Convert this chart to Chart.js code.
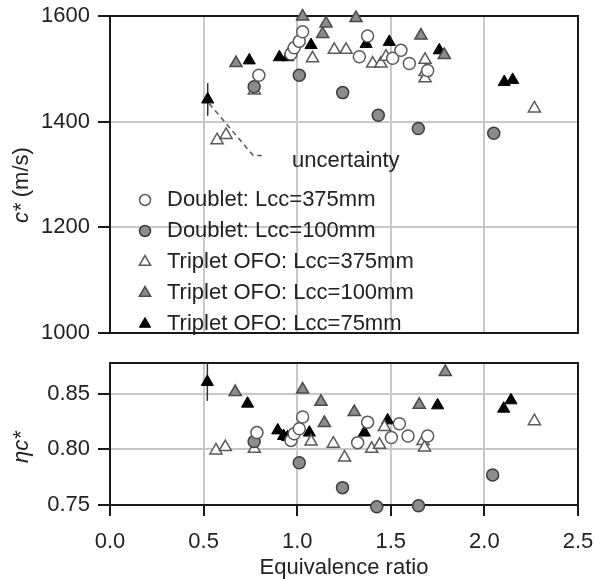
<!DOCTYPE html>
<html>
<head>
<meta charset="utf-8">
<script src="https://cdn.jsdelivr.net/npm/chart.js@4.4.1/dist/chart.umd.min.js"></script>
<style>
  body { margin: 0; background: #fff; }
  canvas { display: block; }
</style>
</head>
<body>
<canvas id="cstar" width="595" height="345"></canvas>
<canvas id="eta" width="595" height="234"></canvas>
<script>
// equivalence ratio (phi) and characteristic velocity c* [m/s]
const d375PhiC = [0.795, 0.967, 0.984, 1.011, 1.029, 1.332, 1.376, 1.51, 1.554, 1.599, 1.697];
const d375Cstar = [1488, 1528, 1540, 1552, 1570, 1523, 1562, 1520, 1535, 1510, 1497];
const d100PhiC = [0.77, 1.011, 1.243, 1.433, 1.647, 2.05];
const d100Cstar = [1466, 1488, 1455, 1412, 1387, 1378];
const t375PhiC = [0.572, 0.62, 0.771, 0.967, 1.082, 1.198, 1.261, 1.403, 1.447, 1.474, 1.683, 1.683, 1.683, 2.267];
const t375Cstar = [1365, 1375, 1459, 1536, 1520, 1536, 1536, 1510, 1510, 1523, 1517, 1494, 1482, 1425];
const t100PhiC = [0.673, 1.029, 1.136, 1.154, 1.314, 1.661, 1.786];
const t100Cstar = [1511, 1599, 1566, 1586, 1596, 1563, 1526];
const t75PhiC = [0.522, 0.744, 0.905, 0.949, 1.074, 1.368, 1.492, 1.759, 2.106, 2.151];
const t75Cstar = [1442, 1516, 1522, 1522, 1545, 1547, 1551, 1535, 1475, 1479];

// c* efficiency
const d375PhiEta = [0.785, 0.967, 0.984, 1.011, 1.029, 1.323, 1.376, 1.503, 1.546, 1.592, 1.697];
const d375Eta = [0.815, 0.808, 0.814, 0.8185, 0.829, 0.806, 0.8244, 0.8106, 0.823, 0.812, 0.812];
const d100PhiEta = [0.77, 1.011, 1.242, 1.425, 1.648, 2.044];
const d100Eta = [0.807, 0.788, 0.7656, 0.7485, 0.7494, 0.777];
const t375PhiEta = [0.566, 0.616, 0.771, 1.074, 1.193, 1.253, 1.398, 1.44, 1.466, 1.672, 1.68, 2.267];
const t375Eta = [0.799, 0.802, 0.8005, 0.807, 0.805, 0.7926, 0.8005, 0.804, 0.820, 0.8075, 0.8016, 0.8253];
const t100PhiEta = [0.669, 1.029, 1.127, 1.145, 1.305, 1.652, 1.791];
const t100Eta = [0.8514, 0.8536, 0.8426, 0.8237, 0.8334, 0.840, 0.8695];
const t75PhiEta = [0.52, 0.735, 0.896, 0.927, 0.949, 1.065, 1.359, 1.483, 1.75, 2.103, 2.142];
const t75Eta = [0.8605, 0.841, 0.817, 0.812, 0.811, 0.815, 0.815, 0.826, 0.8395, 0.8365, 0.844];

// uncertainty bar on the first Lcc=75mm point, and the leader line to its label
const cstarUncertainty = 31;
const etaUncertainty = 0.017;
const leaderPhi = [0.53, 0.765, 0.81];
const leaderCstar = [1434, 1336, 1336];

const labels = ["Doublet: Lcc=375mm", "Doublet: Lcc=100mm", "Triplet OFO: Lcc=375mm", "Triplet OFO: Lcc=100mm", "Triplet OFO: Lcc=75mm"];
const phiTicks = [0, 0.5, 1.0, 1.5, 2.0, 2.5];

const FONT = "'Liberation Sans', Arial, sans-serif";
Chart.defaults.font.family = FONT;
Chart.defaults.color = "#222";

const GRID = "#c8c8c8";
const INK = "#1a1a1a";

const styles = {
  openCircle: { pointStyle: "circle", pointRadius: 6, backgroundColor: "#fff", borderColor: "#5a5a5a", pointBorderWidth: 1.5 },
  grayCircle: { pointStyle: "circle", pointRadius: 6, backgroundColor: "#8c8c8c", borderColor: "#3c3c3c", pointBorderWidth: 1.5 },
  openTri: { pointStyle: "triangle", pointRadius: 7, backgroundColor: "#fff", borderColor: "#5a5a5a", pointBorderWidth: 1.5 },
  grayTri: { pointStyle: "triangle", pointRadius: 7, backgroundColor: "#8c8c8c", borderColor: "#4a4a4a", pointBorderWidth: 1.5 },
  blackTri: { pointStyle: "triangle", pointRadius: 7, backgroundColor: "#000", borderColor: "#000", pointBorderWidth: 1 }
};

function series(label, xs, ys, style) {
  return Object.assign({
    type: "scatter",
    label: label,
    data: xs.map((x, i) => ({ x: x, y: ys[i] })),
    clip: false
  }, style);
}

// keep the plot box where the layout padding puts it
function noOverflow(s) {
  s.paddingLeft = 0;
  s.paddingRight = 0;
  s.paddingTop = 0;
  s.paddingBottom = 0;
}

// box around the plot area, plus the error bar
const framePlugin = {
  id: "frame",
  beforeDatasetsDraw(chart) {
    const { ctx, chartArea: a } = chart;
    ctx.save();
    ctx.strokeStyle = INK;
    ctx.lineWidth = 2;
    ctx.strokeRect(a.left, a.top, a.right - a.left, a.bottom - a.top);

    const eb = chart.options.plugins.errorBar;
    if (eb) {
      const pt = chart.data.datasets[eb.dataset].data[eb.index];
      const xs = chart.scales.x, ys = chart.scales.y;
      const px = xs.getPixelForValue(pt.x);
      ctx.strokeStyle = "#333";
      ctx.lineWidth = 1.5;
      ctx.beginPath();
      ctx.moveTo(px, ys.getPixelForValue(pt.y + eb.half));
      ctx.lineTo(px, ys.getPixelForValue(pt.y - eb.half));
      ctx.stroke();
    }
    ctx.restore();
  }
};

// rotated y title with italic pieces
const yTitlePlugin = {
  id: "yTitle",
  afterDraw(chart) {
    const opt = chart.options.plugins.yTitle;
    if (!opt) return;
    const ctx = chart.ctx;
    ctx.save();
    ctx.translate(opt.x, opt.y);
    ctx.rotate(-Math.PI / 2);
    ctx.fillStyle = "#222";
    ctx.textBaseline = "middle";
    let total = 0;
    opt.parts.forEach(p => {
      ctx.font = (p.italic ? "italic " : "") + "22px " + FONT;
      total += ctx.measureText(p.text).width;
    });
    let x = -total / 2;
    opt.parts.forEach(p => {
      ctx.font = (p.italic ? "italic " : "") + "22px " + FONT;
      ctx.fillText(p.text, x, 0);
      x += ctx.measureText(p.text).width;
    });
    ctx.restore();
  }
};

// legend and "uncertainty" note inside the upper plot
const notesPlugin = {
  id: "notes",
  afterDraw(chart) {
    const opt = chart.options.plugins.notes;
    if (!opt) return;
    const ctx = chart.ctx;
    ctx.save();
    ctx.font = "22px " + FONT;
    ctx.fillStyle = "#222";
    ctx.textBaseline = "middle";
    ctx.fillText("uncertainty", 292, 161);

    const entries = chart.data.datasets.filter(d => d.type === "scatter");
    entries.forEach((d, i) => {
      const y = 200 + i * 31;
      ctx.fillStyle = d.backgroundColor;
      ctx.strokeStyle = d.borderColor;
      ctx.lineWidth = d.pointBorderWidth;
      Chart.helpers.drawPoint(ctx, {
        pointStyle: d.pointStyle,
        radius: d.pointStyle === "circle" ? 5.5 : 6.5,
        rotation: 0,
        borderWidth: d.pointBorderWidth
      }, 145, y);
      ctx.fillStyle = "#222";
      ctx.fillText(d.label, 167, y);
    });
    ctx.restore();
  }
};

const xScaleBase = {
  type: "linear",
  min: 0,
  max: 2.5,
  afterBuildTicks: s => { s.ticks = phiTicks.map(v => ({ value: v })); },
  border: { display: false },
  grid: { color: GRID, lineWidth: 2, tickColor: INK, tickLength: 11 }
};

new Chart(document.getElementById("cstar"), {
  data: {
    datasets: [
      {
        type: "line",
        label: "",
        data: leaderPhi.map((x, i) => ({ x: x, y: leaderCstar[i] })),
        borderColor: "#555",
        borderWidth: 1.5,
        borderDash: [5, 4],
        pointRadius: 0,
        fill: false,
        clip: false
      },
      series(labels[0], d375PhiC, d375Cstar, styles.openCircle),
      series(labels[1], d100PhiC, d100Cstar, styles.grayCircle),
      series(labels[2], t375PhiC, t375Cstar, styles.openTri),
      series(labels[3], t100PhiC, t100Cstar, styles.grayTri),
      series(labels[4], t75PhiC, t75Cstar, styles.blackTri)
    ]
  },
  options: {
    responsive: false,
    animation: false,
    events: [],
    layout: { padding: { top: 16, right: 17, bottom: 12, left: 0 } },
    scales: {
      x: Object.assign({}, xScaleBase, {
        ticks: { display: false },
        grid: { color: GRID, lineWidth: 2, drawTicks: false },
        afterFit: s => { s.height = 0; noOverflow(s); }
      }),
      y: {
        min: 1000,
        max: 1600,
        border: { display: false },
        ticks: { stepSize: 200, font: { size: 22 }, padding: 8, callback: v => String(v) },
        grid: { color: GRID, lineWidth: 2, tickColor: INK, tickLength: 12 },
        afterFit: s => { s.width = 110; noOverflow(s); }
      }
    },
    plugins: {
      legend: { display: false },
      tooltip: { enabled: false },
      errorBar: { dataset: 5, index: 0, half: cstarUncertainty },
      yTitle: { x: 22, y: 185, parts: [{ text: "c*", italic: true }, { text: " (m/s)", italic: false }] },
      notes: true
    }
  },
  plugins: [framePlugin, yTitlePlugin, notesPlugin]
});

new Chart(document.getElementById("eta"), {
  data: {
    datasets: [
      series(labels[0], d375PhiEta, d375Eta, styles.openCircle),
      series(labels[1], d100PhiEta, d100Eta, styles.grayCircle),
      series(labels[2], t375PhiEta, t375Eta, styles.openTri),
      series(labels[3], t100PhiEta, t100Eta, styles.grayTri),
      series(labels[4], t75PhiEta, t75Eta, styles.blackTri)
    ]
  },
  options: {
    responsive: false,
    animation: false,
    events: [],
    layout: { padding: { top: 18, right: 17, bottom: 0, left: 0 } },
    scales: {
      x: Object.assign({}, xScaleBase, {
        ticks: { font: { size: 22 }, padding: 13, maxRotation: 0, callback: v => v.toFixed(1) },
        title: { display: true, text: "Equivalence ratio", font: { size: 22, lineHeight: 1 }, padding: { top: 0, bottom: 0 } },
        afterFit: s => { s.height = 74; noOverflow(s); }
      }),
      y: {
        min: 0.75,
        max: 0.8775,
        border: { display: false },
        ticks: { stepSize: 0.05, includeBounds: false, font: { size: 22 }, padding: 8, callback: v => v.toFixed(2) },
        grid: { color: GRID, lineWidth: 2, tickColor: INK, tickLength: 12 },
        afterFit: s => { s.width = 110; noOverflow(s); }
      }
    },
    plugins: {
      legend: { display: false },
      tooltip: { enabled: false },
      errorBar: { dataset: 4, index: 0, half: etaUncertainty },
      yTitle: { x: 22, y: 102, parts: [{ text: "ηc*", italic: true }] }
    }
  },
  plugins: [framePlugin, yTitlePlugin]
});
</script>
</body>
</html>
